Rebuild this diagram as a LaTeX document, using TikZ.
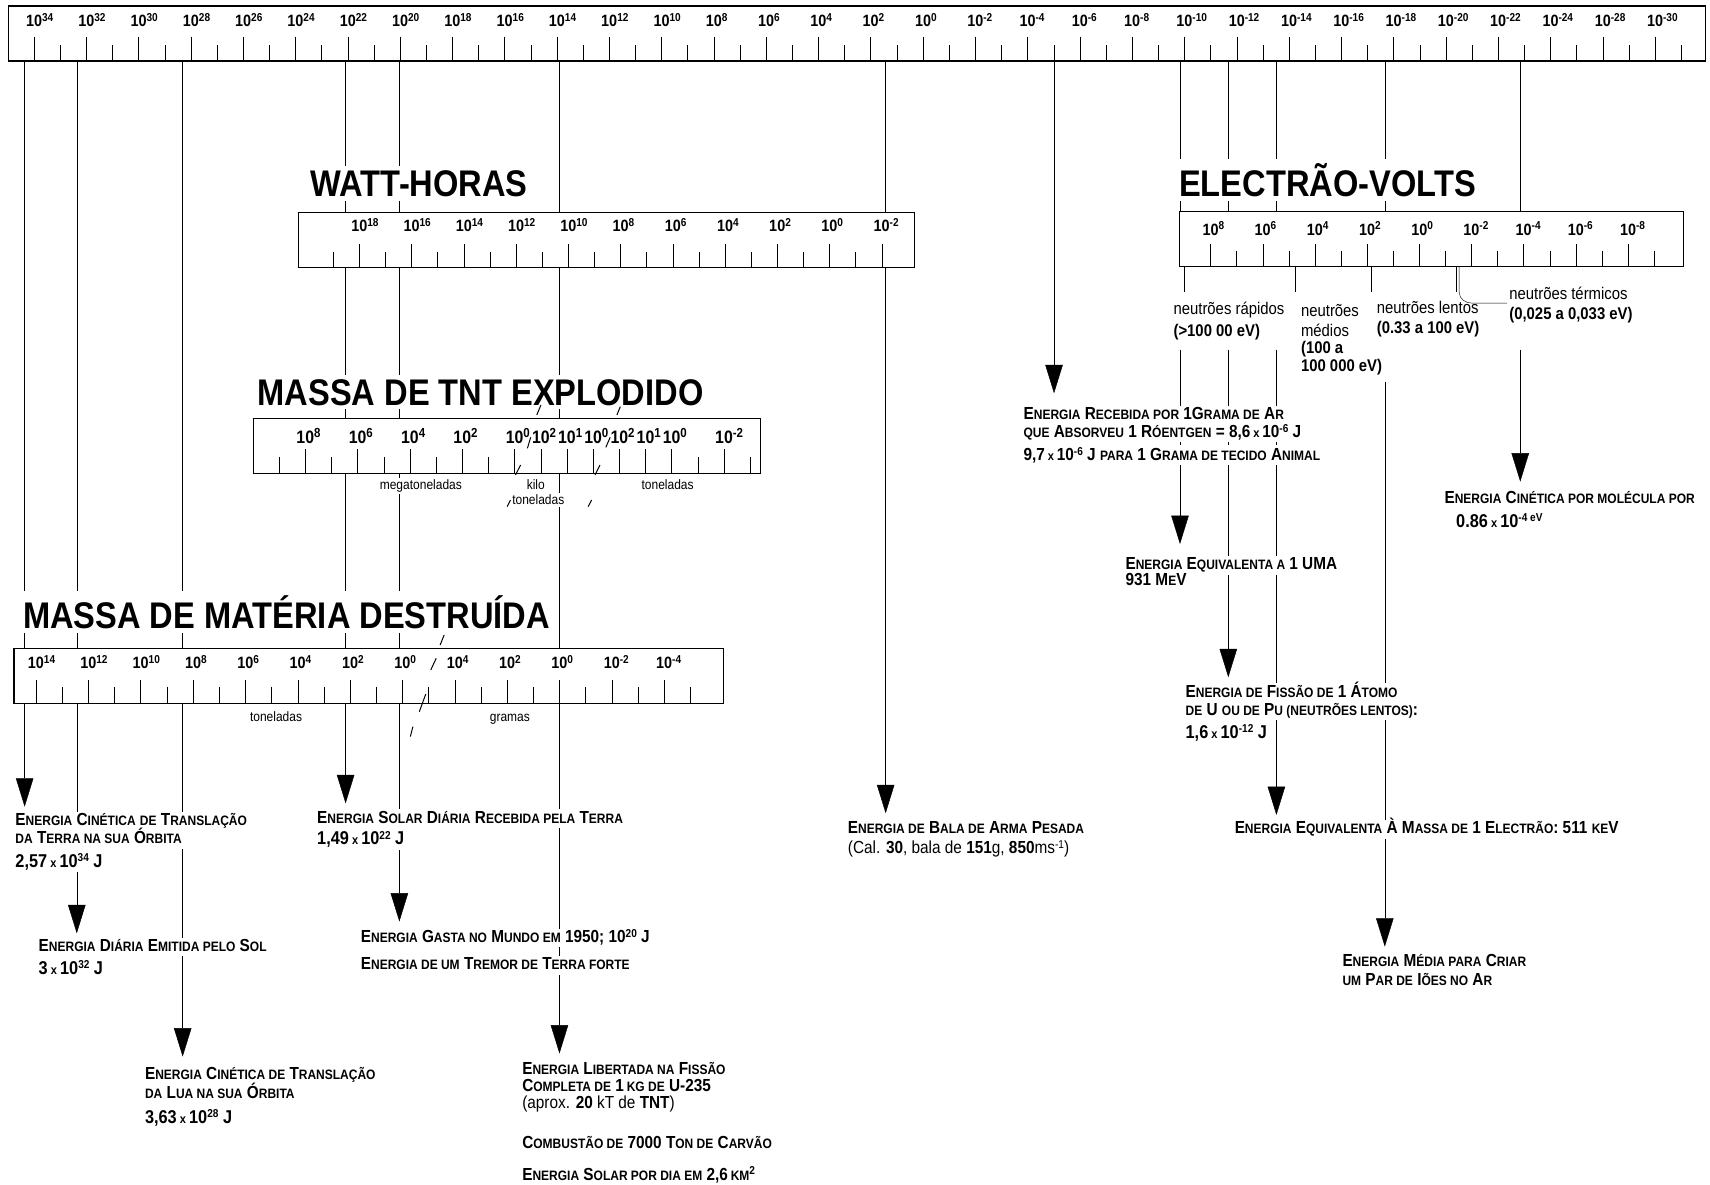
\documentclass[tikz,border=0pt]{standalone}
\usepackage{fontspec}
\setmainfont{Liberation Sans}[FakeStretch=0.88]
\usetikzlibrary{arrows.meta}
\pgfdeclarelayer{bg}
\pgfsetlayers{bg,main}
\newcommand\lc[1]{{\fontsize{12.5}{13}\selectfont #1}}
\newcommand\xm{\,{\fontsize{11.5}{12}\selectfont x}\,}
\newcommand\ex[1]{\raisebox{0.32em}{\fontsize{10.5}{11}\selectfont #1}}
\newcommand\exT[1]{\raisebox{0.32em}{\fontsize{12}{12}\selectfont #1}}
\newcommand\lb[1]{10\rlap{\ex{#1}}}
\newcommand\lbT[1]{10\rlap{\exT{#1}}}
\tikzset{
  sbox/.style={draw, fill=white, line width=1.1pt},
  lab/.style={anchor=base, inner sep=0pt, font=\bfseries\fontsize{15}{15}\selectfont},
  labT/.style={anchor=base, inner sep=0pt, font=\bfseries\fontsize{16.5}{16.5}\selectfont},
  ttl/.style={anchor=base west, fill=white, inner xsep=2pt, inner ysep=4pt, text depth=0pt, font=\bfseries\fontsize{34}{34}\selectfont},
  etx/.style={anchor=base west, fill=white, inner xsep=2.5pt, inner ysep=1.2pt, text height=11.5pt, text depth=3.2pt, font=\bfseries\fontsize{16}{16}\selectfont},
  numx/.style={etx, text height=16pt, font=\bfseries\fontsize{17}{17}\selectfont},
  ntx/.style={anchor=base west, inner sep=0pt, font=\fontsize{15.5}{16}\selectfont},
  ntb/.style={anchor=base west, inner sep=0pt, font=\bfseries\fontsize{15.5}{16}\selectfont},
  unit/.style={anchor=base, fill=white, inner sep=1.5pt, font=\fontsize{12.5}{13}\selectfont},
  arr/.style={-{Triangle[width=16pt,length=26pt]}},
  brk/.style={line width=0.9pt},
}
\begin{document}
\begin{tikzpicture}[x=1pt,y=-1pt,line width=0.9pt]
\useasboundingbox (0,0) rectangle (1568,1086);

% ---------- connectors (background) ----------
\begin{pgfonlayer}{bg}
\fill[white] (0,0) rectangle (1568,1086);
\foreach \n/\x/\ya/\yb in {A/22.6/56/739.7, B/70.4/56/855.8, C/167.5/56/968.8,
  D/316.9/56/736.6, E/366.2/56/845, F/513/56/966, G/812.1/56/745.7, H/966.5/56/360.6}{
  \coordinate (s\n) at (\x,\ya);
  \coordinate (e\n) at (\x,\yb);
  \draw[arr] (s\n) -- (e\n);
}
\foreach \n/\x in {I/1082, J/1126.3, K/1170.4, L/1269.8, M/1394}{
  \coordinate (s\n) at (\x,56);
  \coordinate (m\n) at (\x,240);
  \draw (s\n) -- (m\n);
}
\foreach \n/\x/\ya/\yb in {I/1082/320.9/498.8, J/1126.3/320.9/621, K/1170.4/320.9/747.3,
  L/1269.8/350/868, M/1394/320.9/441.6}{
  \coordinate (r\n) at (\x,\ya);
  \coordinate (e\n) at (\x,\yb);
  \draw[arr] (r\n) -- (e\n);
}
\end{pgfonlayer}

% ---------- top scale (joules) ----------
\draw[sbox] (7.5,5.5) rectangle (1564,56);
\foreach \e [count=\k from 0] in {34,32,30,28,26,24,22,20,18,16,14,12,10,8,6,4,2,0,-2,-4,-6,-8,-10,-12,-14,-16,-18,-20,-22,-24,-28,-30}{
  \draw (31.2+47.95*\k,33.6) -- (31.2+47.95*\k,56);
  \draw (55.2+47.95*\k,41.3) -- (55.2+47.95*\k,56);
  \node[lab] (T\k) at (31.2+47.95*\k,24.5) {\lb{\e}};
}

% ---------- watt-horas ----------
\node[ttl] (wattT) at (282.8,180.3) {WATT-HORAS};
\draw[sbox] (274,195) rectangle (838.5,245);
\foreach \e [count=\k from 0] in {18,16,14,12,10,8,6,4,2,0,-2}{
  \draw (329.5+47.9*\k,223.7) -- (329.5+47.9*\k,245);
  \draw (305.5+47.9*\k,230.8) -- (305.5+47.9*\k,245);
  \node[lab] (W\k) at (329.5+47.9*\k,212.4) {\lb{\e}};
}

% ---------- TNT ----------
\node[ttl] (tntT) at (234,371.4) {MASSA DE TNT EXPLODIDO};
\draw[sbox] (232.4,383.6) rectangle (697,434);
\foreach \j in {1,3,5,7,9,10,11,12,13,14,15,17}{
  \draw (255.9+24*\j,412) -- (255.9+24*\j,434);
}
\foreach \j in {0,2,4,6,8,16,18}{
  \draw (255.9+24*\j,419) -- (255.9+24*\j,434);
}
\foreach \j/\e in {1/8,3/6,5/4,7/2,9/0,10/2,11/1,12/0,13/2,14/1,15/0,17/-2}{
  \node[labT] (N\j) at (255.9+24*\j,406.5) {\lbT{\e}};
}
\draw[brk] (496,371.4) -- (492.2,380.5);
\draw[brk] (486.6,401) -- (483.6,411.1);
\draw[brk] (477.4,426.4) -- (472.7,435.5);
\draw[brk] (568.8,372.9) -- (565.7,380.5);
\draw[brk] (559.5,401) -- (555.5,410.2);
\draw[brk] (550.2,426.4) -- (545.6,435.5);
\node[unit] (mega) at (385.9,449.3) {megatoneladas};
\node[unit] (kilo) at (491.3,449.3) {kilo};
\node[unit] (kton) at (493.6,463) {toneladas};
\node[unit] (tonT) at (612.2,449.3) {toneladas};
\draw[brk] (468.1,458.5) -- (465,464.6);
\draw[brk] (542.5,458.5) -- (539.3,464.6);

% ---------- massa de materia ----------
\node[ttl] (matT) at (19,576) {MASSA DE MATÉRIA DESTRUÍDA};
\draw[sbox] (12.8,594.5) rectangle (663.6,644.9);
\foreach \j in {0,2,...,24}{
  \draw (33+24*\j,623.5) -- (33+24*\j,644.9);
}
\foreach \j in {1,3,...,25}{
  \draw (33+24*\j,629.6) -- (33+24*\j,644.9);
}
\foreach \j/\e in {0/14,2/12,4/10,6/8,8/6,10/4,12/2,14/0,16/4,18/2,20/0,22/-2,24/-4}{
  \node[lab] (M\j) at (33+24*\j,612.8) {\lb{\e}};
}
\draw[brk] (407.3,582.2) -- (403.6,591.4);
\draw[brk] (400,603.6) -- (395,614.3);
\draw[brk] (390.4,636.4) -- (384.5,652.6);
\draw[brk] (378.6,666.3) -- (376.3,675.4);
\node[unit] (tonM) at (253.1,661.7) {toneladas};
\node[unit] (gram) at (467.5,661.7) {gramas};

% ---------- electrao-volts ----------
\node[ttl] (evT) at (1079,180.3) {ELECTRÃO-VOLTS};
\draw[sbox] (1081.6,194.1) rectangle (1544,244.5);
\foreach \e [count=\k from 0] in {8,6,4,2,0,-2,-4,-6,-8}{
  \draw (1110+47.85*\k,223.7) -- (1110+47.85*\k,244.5);
  \draw (1134+47.85*\k,229.8) -- (1134+47.85*\k,244.5);
  \node[lab] (V\k) at (1110+47.85*\k,215.5) {\lb{\e}};
}
\foreach \x in {1086,1188,1257.5,1334.9}{
  \draw (\x,244.5) -- (\x,267.5);
}
\coordinate (th0) at (1338,244.5);
\coordinate (th1) at (1382,278);
\draw (th0) -- (1338,268) to[out=-90,in=180] (1350,278) -- (th1);

\node[ntx] (nr1) at (1075.9,288.8) {neutrões rápidos};
\node[ntb] (nr2) at (1075.9,308.7) {(>100 00 eV)};
\node[ntx] (nm1) at (1192.8,290.3) {neutrões};
\node[ntx] (nm2) at (1192.8,308.7) {médios};
\node[ntb] (nm3) at (1192.8,324.5) {(100 a};
\node[ntb] (nm4) at (1192.8,340.8) {100 000 eV)};
\node[ntx] (nl1) at (1262.3,287.3) {neutrões lentos};
\node[ntb] (nl2) at (1262.3,305.6) {(0.33 a 100 eV)};
\node[ntx] (nt1) at (1383.8,274.5) {neutrões térmicos};
\node[ntb] (nt2) at (1383.8,293.4) {(0,025 a 0,033 eV)};

% ---------- energy texts ----------
\node[etx] (e1) at (11.5,757.4) {E\lc{NERGIA} C\lc{INÉTICA} \lc{DE} T\lc{RANSLAÇÃO}};
\node[etx] (e2) at (11.5,773.9) {\lc{DA} T\lc{ERRA NA SUA} Ó\lc{RBITA}};
\node[numx] (e3) at (11.5,795.3) {2,57\xm 10\ex{34} J};
\node[etx] (e4) at (32.8,872.6) {E\lc{NERGIA} D\lc{IÁRIA} E\lc{MITIDA PELO} S\lc{OL}};
\node[numx] (e5) at (32.8,893.4) {3\xm 10\ex{32} J};
\node[etx] (e6) at (130.3,990.3) {E\lc{NERGIA} C\lc{INÉTICA DE} T\lc{RANSLAÇÃO}};
\node[etx] (e7) at (130.3,1007.1) {\lc{DA} L\lc{UA NA SUA} Ó\lc{RBITA}};
\node[numx] (e8) at (130.3,1030) {3,63\xm 10\ex{28} J};
\node[etx] (e9) at (288.2,754.9) {E\lc{NERGIA} S\lc{OLAR} D\lc{IÁRIA} R\lc{ECEBIDA PELA} T\lc{ERRA}};
\node[numx] (e10) at (288.2,774.8) {1,49\xm 10\ex{22} J};
\node[etx] (e11) at (328.2,864.4) {E\lc{NERGIA} G\lc{ASTA NO} M\lc{UNDO EM} 1950; 10\ex{20} J};
\node[etx] (e12) at (328.2,889.4) {E\lc{NERGIA DE UM} T\lc{REMOR DE} T\lc{ERRA FORTE}};
\node[etx] (e13) at (476.2,985.7) {E\lc{NERGIA} L\lc{IBERTADA NA} F\lc{ISSÃO}};
\node[etx] (e14) at (476.2,1001) {C\lc{OMPLETA DE} 1\,\lc{KG DE} U-235};
\node[etx] (e15) at (476.2,1016.5) {\mdseries (aprox. \textbf{20} kT de \textbf{TNT})};
\node[etx] (e16) at (476.2,1053) {C\lc{OMBUSTÃO DE} 7000 T\lc{ON DE} C\lc{ARVÃO}};
\node[etx] (e17) at (476.2,1082) {E\lc{NERGIA} S\lc{OLAR POR DIA EM} 2,6\,\lc{KM}\ex{2}};
\node[etx] (e18) at (774.8,764.7) {E\lc{NERGIA DE} B\lc{ALA DE} A\lc{RMA} P\lc{ESADA}};
\node[etx] (e19) at (774.8,783) {\mdseries (Cal. \textbf{30}, bala de \textbf{151}g, \textbf{850}ms\ex{-1})};
\node[etx] (e20) at (935.9,385.1) {E\lc{NERGIA} R\lc{ECEBIDA POR} 1G\lc{RAMA DE} A\lc{R}};
\node[etx] (e21) at (935.9,401.3) {\lc{QUE} A\lc{BSORVEU} 1 R\lc{ÓENTGEN} = 8,6\xm 10\ex{-6} J};
\node[etx, text height=13pt] (e22) at (935.9,422.4) {9,7\xm 10\ex{-6} J \lc{PARA} 1 G\lc{RAMA DE TECIDO} A\lc{NIMAL}};
\node[etx] (e23) at (1029.4,522.6) {E\lc{NERGIA} E\lc{QUIVALENTA A} 1 UMA};
\node[etx] (e24) at (1029.4,537.3) {931 M\lc{E}V};
\node[etx] (e25) at (1084.5,639.4) {E\lc{NERGIA DE} F\lc{ISSÃO DE} 1 Á\lc{TOMO}};
\node[etx] (e26) at (1084.5,656.2) {\lc{DE} U \lc{OU DE} P\lc{U (NEUTRÕES LENTOS)}:};
\node[numx] (e27) at (1084.5,677) {1,6\xm 10\ex{-12} J};
\node[etx] (e28) at (1129.5,764.7) {E\lc{NERGIA} E\lc{QUIVALENTA} À M\lc{ASSA DE} 1 E\lc{LECTRÃO}: 511 \lc{KE}V};
\node[etx] (e29) at (1228.3,886.4) {E\lc{NERGIA} M\lc{ÉDIA PARA} C\lc{RIAR}};
\node[etx] (e30) at (1228.3,903.2) {\lc{UM} P\lc{AR DE} I\lc{ÕES NO} A\lc{R}};
\node[etx] (e31) at (1321.9,461.5) {E\lc{NERGIA} C\lc{INÉTICA POR MOLÉCULA POR}};
\node[numx] (e32) at (1332.6,483.5) {0.86\xm 10\ex{-4 eV}};
\end{tikzpicture}
\end{document}
